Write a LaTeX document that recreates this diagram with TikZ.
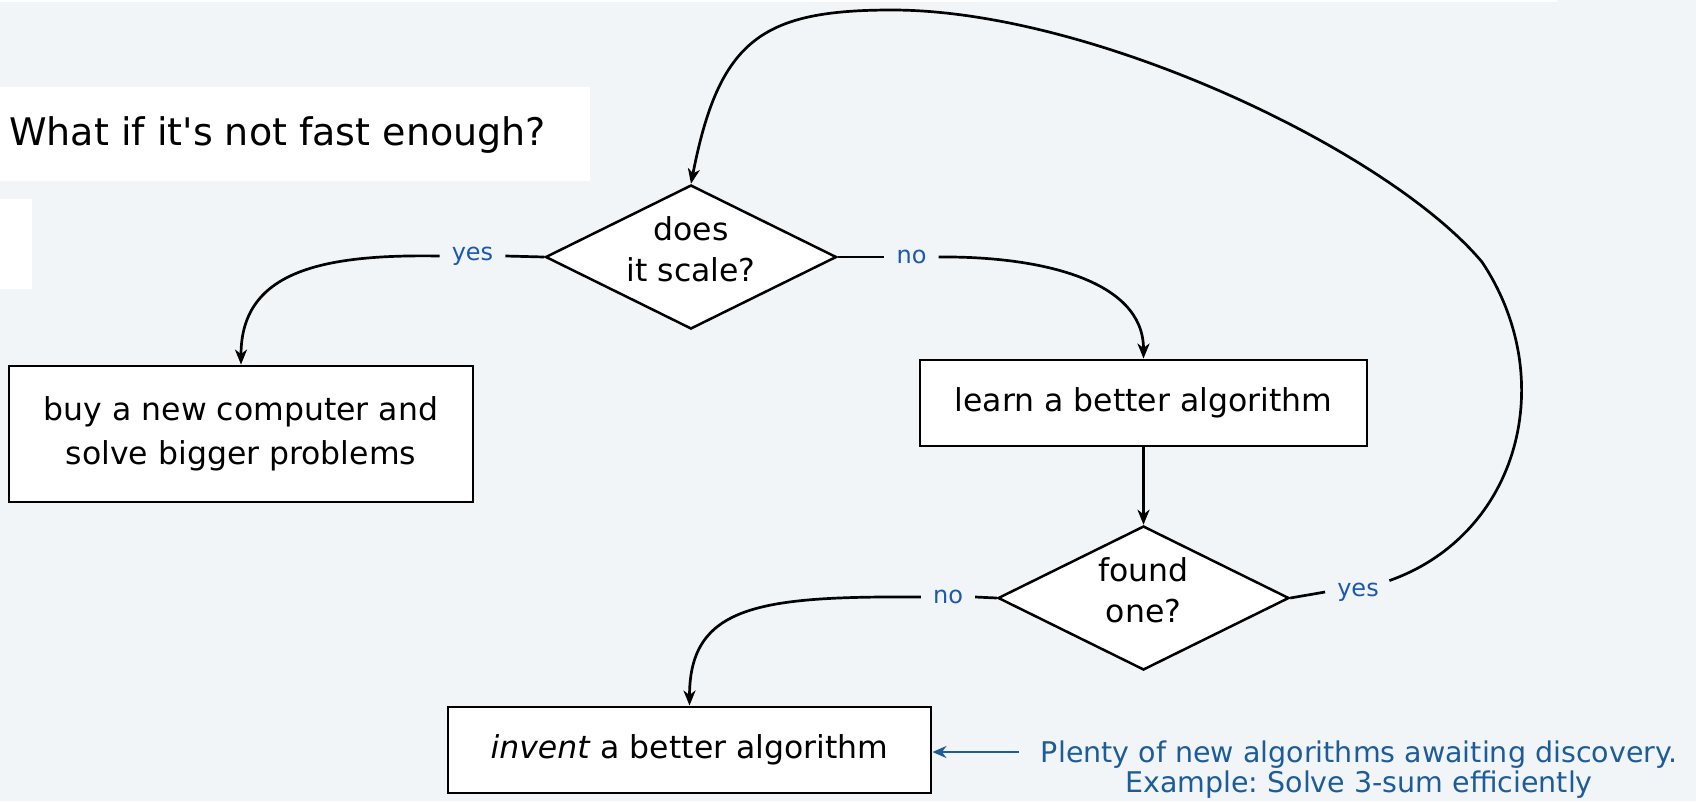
\documentclass[tikz,border=0pt]{standalone}
\usepackage{fontspec}
\setmainfont{DejaVu Sans}
\newfontfamily\dv{DejaVu Sans}
\usetikzlibrary{shapes.geometric,arrows.meta}
\definecolor{bg}{RGB}{242,245,248}
\definecolor{lblblue}{RGB}{28,88,178}
\definecolor{annblue}{RGB}{30,92,152}
\frenchspacing
\begin{document}
\begin{tikzpicture}[x=1pt,y=-1pt,
  conn/.style={line width=2.7pt, draw=black},
  arr/.style={conn, -{Stealth[length=15pt,width=12pt,inset=4.5pt]}},
  annarr/.style={line width=2.7pt, draw=annblue, -{Stealth[length=14pt,width=12pt,inset=4.5pt]}},
  boxnode/.style={draw=black, line width=2.9pt, fill=white, inner sep=0pt, align=center, font=\dv\frenchspacing\fontsize{31.5}{44}\selectfont},
  dianode/.style={diamond, draw=black, line width=2.5pt, fill=white, inner sep=0pt, aspect=2, minimum width=291pt, minimum height=144pt},
  diatext/.style={inner sep=0pt, align=center, font=\dv\fontsize{31.5}{41}\selectfont},
  lbl/.style={text=lblblue, inner xsep=12pt, inner ysep=2pt, font=\dv\fontsize{24}{28}\selectfont},
  ann/.style={text=annblue, inner sep=0pt, align=center, font=\dv\frenchspacing\fontsize{28.5}{30}\selectfont},
]
\useasboundingbox (0,0) rectangle (1696,801);
\fill[bg] (0,0) rectangle (1696,801);
\fill[white] (0,0) rectangle (1557,2);
\fill[white] (0,87) rectangle (590,181);
\fill[white] (0,199) rectangle (32,289);

\node[anchor=base west, inner sep=0pt, font=\dv\fontsize{38}{44}\selectfont] (title) at (9,145) {What if it's not fast enough?};

\node[dianode] (d1) at (691,257) {};
\node[diatext] (d1t) at (691,249.5) {does\\it scale?};
\node[boxnode, minimum width=464pt, minimum height=136pt] (b1) at (241,434) {buy a new computer and\\solve bigger problems};
\node[boxnode, minimum width=447pt, minimum height=86pt] (b2) at (1143.5,403) {learn a better algorithm};
\node[dianode] (d2) at (1143.5,598) {};
\node[diatext] (d2t) at (1143.5,590) {found\\one?};
\node[boxnode, minimum width=483pt, minimum height=86pt] (b3) at (689.5,750) {\textit{invent} a better algorithm};

\node[lbl] (ly1) at (472.5,256) {yes};
\node[lbl] (ln1) at (911.5,257) {no};
\node[lbl] (ln2) at (948,597) {no};
\node[lbl] (ly2) at (1358,592) {yes};

\coordinate (k1) at (1482,262);
\coordinate (k2) at (892,10);

\draw[conn] (d1.west) -- (ly1.east);
\draw[arr] (ly1.west) .. controls (320,254) and (241,272) .. (b1.north);
\draw[conn] (d1.east) -- (ln1.west);
\draw[arr] (ln1.east) .. controls (1040,256) and (1143.5,280) .. (b2.north);
\draw[arr] (b2.south) -- (d2.north);
\draw[conn] (d2.west) -- (ln2.east);
\draw[arr] (ln2.west) .. controls (760,596) and (689.5,605) .. (b3.north);
\draw[conn] (d2.east) -- (ly2.west);
\draw[arr] (ly2.20) .. controls (1519.5,534.5) and (1560,379) .. (k1)
  .. controls (1388,150) and (1092,10) .. (k2)
  .. controls (762,10) and (719,39.4) .. (d1.north);

\node[ann] (ann) at (1359,769.2) {Plenty of new algorithms awaiting discovery.\\Example: Solve 3-sum efficiently};
\coordinate (annA) at (1019,752);
\draw[annarr] (annA) -- (annA -| b3.east);
\end{tikzpicture}
\end{document}
